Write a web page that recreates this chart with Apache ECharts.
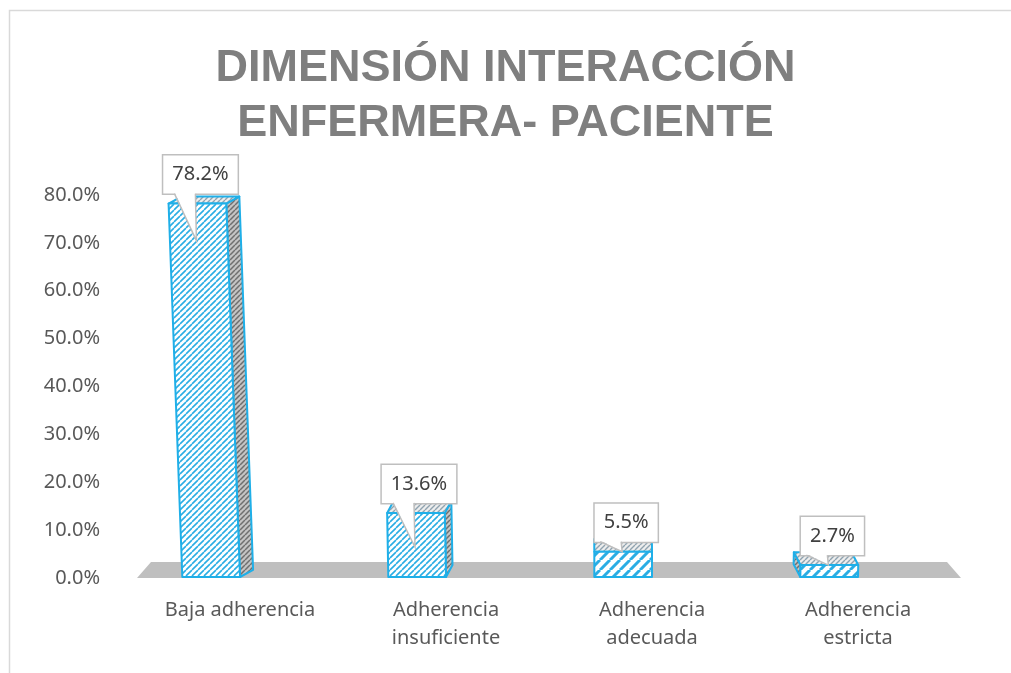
<!DOCTYPE html>
<html>
<head>
<meta charset="utf-8">
<script src="https://cdn.jsdelivr.net/npm/echarts@6/dist/echarts.min.js"></script>
<style>
  html, body { margin: 0; padding: 0; background: #fff; }
  #chart { width: 1011px; height: 673px; }
</style>
</head>
<body>
<div id="chart"></div>
<script>
// datos
const categorias = ['Baja adherencia', 'Adherencia\ninsuficiente', 'Adherencia\nadecuada', 'Adherencia\nestricta'];
const porcentajes = [78.2, 13.6, 5.5, 2.7];
const ejeMin = 0;
const ejeMax = 80;
const ejePaso = 10;

const azul = '#1FAFE8';

// tramas tipo Excel
function tramaTile(size, bg, fg, lw) {
  const c = document.createElement('canvas');
  c.width = size;
  c.height = size;
  const g = c.getContext('2d');
  g.fillStyle = bg;
  g.fillRect(0, 0, size, size);
  g.strokeStyle = fg;
  g.lineWidth = lw;
  g.beginPath();
  [-size, 0, size].forEach((o) => {
    g.moveTo(o, size);
    g.lineTo(o + size, 0);
  });
  g.stroke();
  return { image: c, repeat: 'repeat' };
}
const tramaFina = tramaTile(6, '#ffffff', '#2AADE4', 1.6);
const tramaGruesa = tramaTile(10, '#ffffff', '#2AADE4', 3);
const tramaLado = tramaTile(5, '#C4C4C4', '#6F6F6F', 1.5);
const tramaTapa = tramaTile(5, '#EDEDED', '#8FA3B0', 1.4);
const tramasFrente = [tramaFina, tramaFina, tramaGruesa, tramaGruesa];

const chartDom = document.getElementById('chart');
const myChart = echarts.init(chartDom);

function dibujarPiso(params, api) {
  const cs = params.coordSys;
  const yb = cs.y + cs.height;
  return {
    type: 'polygon',
    shape: {
      points: [[cs.x, yb], [cs.x + cs.width, yb], [cs.x + cs.width - 14, yb - 16], [cs.x + 14, yb - 16]],
    },
    style: { fill: '#BFBFBF' },
  };
}

function dibujarBarra(params, api) {
  const i = api.value(0);
  const v = api.value(1);
  const cs = params.coordSys;
  const band = api.size([1, 0])[0];
  const top = api.coord([i, v]);
  const base = api.coord([i, 0]);
  const half = band * 0.14;
  const cx = top[0] - band * 0.14;
  const y0 = base[1] - 1;
  const yt = top[1];
  const h = y0 - yt;
  const vx = cs.x + cs.width * 0.586;
  const s = (cx - vx) * 9e-5 * h;
  const dx = (vx - cx) * 0.032;
  const dy = 7 + ((yt - cs.y) / cs.height) * 6;

  const fl0 = [cx - half, y0];
  const fr0 = [cx + half, y0];
  const fr1 = [cx + half + s, yt];
  const fl1 = [cx - half + s, yt];
  const bl1 = [fl1[0] + dx, yt - dy];
  const br1 = [fr1[0] + dx, yt - dy];

  const borde = { stroke: azul, lineWidth: 2, lineJoin: 'round' };
  const children = [];
  if (dx > 1) {
    children.push({
      type: 'polygon',
      shape: { points: [fr0, fr1, br1, [fr0[0] + dx, y0 - dy]] },
      style: { fill: tramaLado, ...borde },
    });
  } else if (dx < -1) {
    children.push({
      type: 'polygon',
      shape: { points: [fl0, fl1, bl1, [fl0[0] + dx, y0 - dy]] },
      style: { fill: tramaLado, ...borde },
    });
  }
  children.push({
    type: 'polygon',
    shape: { points: [fl1, fr1, br1, bl1] },
    style: { fill: tramaTapa, ...borde },
  });
  children.push({
    type: 'polygon',
    shape: { points: [fl0, fr0, fr1, fl1] },
    style: { fill: tramasFrente[i], ...borde },
  });

  // etiqueta tipo globo
  const bx = cx + s + 3;
  const bb = yt - 10;
  const tipY = yt + Math.max(0, Math.min(h - 30, 37));
  children.push({
    type: 'text',
    style: {
      text: v.toFixed(1) + '%',
      x: bx,
      y: bb - 19,
      align: 'center',
      verticalAlign: 'middle',
      font: '20px "Noto Sans"',
      lineHeight: 24,
      fill: '#404040',
      backgroundColor: '#fff',
      borderColor: '#BFBFBF',
      borderWidth: 1.5,
      padding: [7, 9],
    },
  });
  children.push({
    type: 'polygon',
    shape: { points: [[bx - 26, bb - 1.5], [bx - 5, bb - 1.5], [bx - 4, tipY]] },
    style: { fill: '#fff' },
  });
  children.push({
    type: 'polyline',
    shape: { points: [[bx - 26, bb], [bx - 4, tipY], [bx - 5, bb]] },
    style: { stroke: '#BFBFBF', lineWidth: 1.5, fill: null },
  });
  return { type: 'group', children };
}

myChart.setOption({
  animation: false,
  title: {
    text: 'DIMENSIÓN INTERACCIÓN\nENFERMERA- PACIENTE',
    left: 'center',
    top: 36,
    textStyle: {
      fontFamily: '"Liberation Sans", Arial, sans-serif',
      fontSize: 45,
      fontWeight: 'bold',
      color: '#7F7F7F',
      lineHeight: 55,
    },
  },
  graphic: [
    {
      type: 'rect',
      left: 7,
      top: 8,
      shape: { width: 1020, height: 680 },
      style: { fill: 'none', stroke: '#D9D9D9', lineWidth: 1.5 },
      silent: true,
    },
  ],
  grid: { left: 137, right: 50, top: 195, bottom: 95 },
  xAxis: {
    type: 'category',
    data: categorias,
    axisLine: { show: false },
    axisTick: { show: false },
    axisLabel: {
      margin: 18,
      color: '#595959',
      fontSize: 20,
      lineHeight: 28,
      fontFamily: '"Noto Sans", sans-serif',
    },
  },
  yAxis: {
    type: 'value',
    min: ejeMin,
    max: ejeMax,
    interval: ejePaso,
    axisLine: { show: false },
    axisTick: { show: false },
    splitLine: { show: false },
    axisLabel: {
      margin: 37,
      color: '#595959',
      fontSize: 20,
      fontFamily: '"Noto Sans", sans-serif',
      formatter: (val) => `${val.toFixed(1)}%`,
    },
  },
  series: [
    {
      type: 'custom',
      renderItem: dibujarPiso,
      data: [[0, 0]],
      z: 1,
      silent: true,
    },
    {
      type: 'custom',
      renderItem: dibujarBarra,
      data: porcentajes.map((v, i) => [i, v]),
      encode: { x: 0, y: 1 },
      z: 2,
    },
  ],
});
</script>
</body>
</html>
